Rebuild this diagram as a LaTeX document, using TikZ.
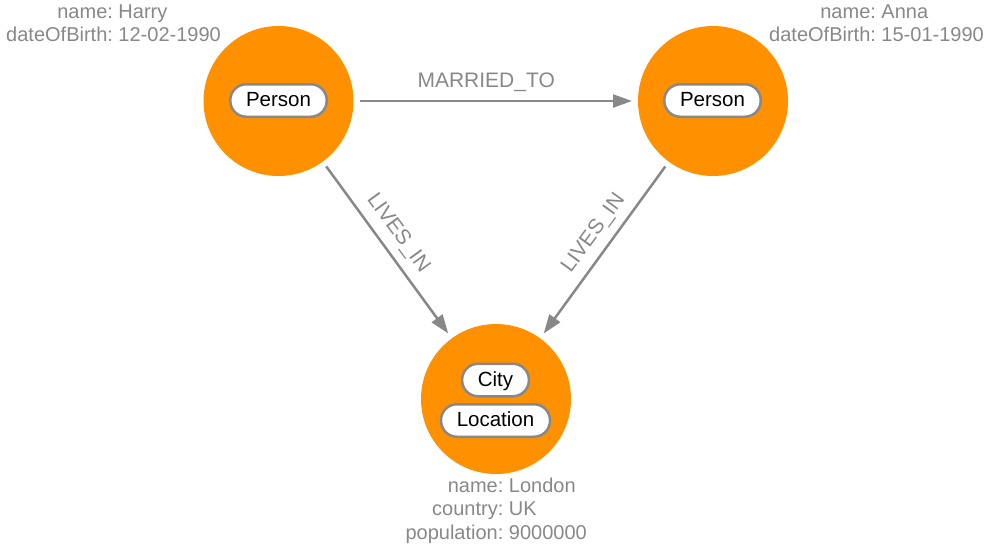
\documentclass[tikz,border=0pt]{standalone}
\usepackage{fontspec}
\setmainfont{Liberation Sans}
\usetikzlibrary{arrows.meta}
\definecolor{nodeorange}{RGB}{255,145,0}
\definecolor{txtgray}{RGB}{136,136,136}
\definecolor{edgegray}{RGB}{136,136,136}
\newcommand{\proptab}[1]{\begin{tabular}[t]{@{}r@{:\ }l@{}}#1\end{tabular}}
\begin{document}
\begin{tikzpicture}[x=1pt,y=-1pt,
  entity/.style={circle, fill=nodeorange, minimum size=150pt, inner sep=0pt, outer sep=6pt},
  pill/.style={draw=edgegray, line width=2.5pt, fill=white, rounded corners=16pt,
    minimum height=32.5pt, inner xsep=15.75pt, inner ysep=0pt, text height=14.5pt, text depth=2pt,
    font=\fontsize{20.5}{24}\selectfont, text=black},
  props/.style={inner sep=0pt, text=txtgray, font=\fontsize{20}{23.5}\selectfont},
  rel/.style={draw=edgegray, line width=2.5pt, -{Triangle[length=19pt,width=13pt]}},
  rlabel/.style={inner sep=0pt, text height=15pt, text depth=0pt, text=txtgray,
    font=\fontsize{21}{24}\selectfont, sloped, pos=0.465, above=12pt}
]
\useasboundingbox (0,0) rectangle (992,547);
\node[entity] (harry) at (278.5,101) {};
\node[entity] (anna) at (713,101) {};
\node[entity] (london) at (496,399) {};
\node[pill] (harryP) at (278.5,100.5) {Person};
\node[pill] (annaP) at (712.5,100.5) {Person};
\node[pill] (city) at (495.5,380) {City};
\node[pill] (loc) at (495.5,420.5) {Location};
\node[props, anchor=base east] (harryT) at (221,18.3) {\proptab{name & Harry\\ dateOfBirth & 12-02-1990}};
\node[props, anchor=base east] (annaT) at (984,18.3) {\proptab{name & Anna\\ dateOfBirth & 15-01-1990}};
\node[props, anchor=base east] (londonT) at (587,492) {\proptab{name & London\\ country & UK\\ population & 9000000}};
\draw[rel] (harry) -- node[rlabel] (l1) {MARRIED\_TO} (anna);
\draw[rel] (harry) -- node[rlabel] (l2) {LIVES\_IN} (london);
\draw[rel] (anna) -- node[rlabel] (l3) {LIVES\_IN} (london);
\end{tikzpicture}
\end{document}
